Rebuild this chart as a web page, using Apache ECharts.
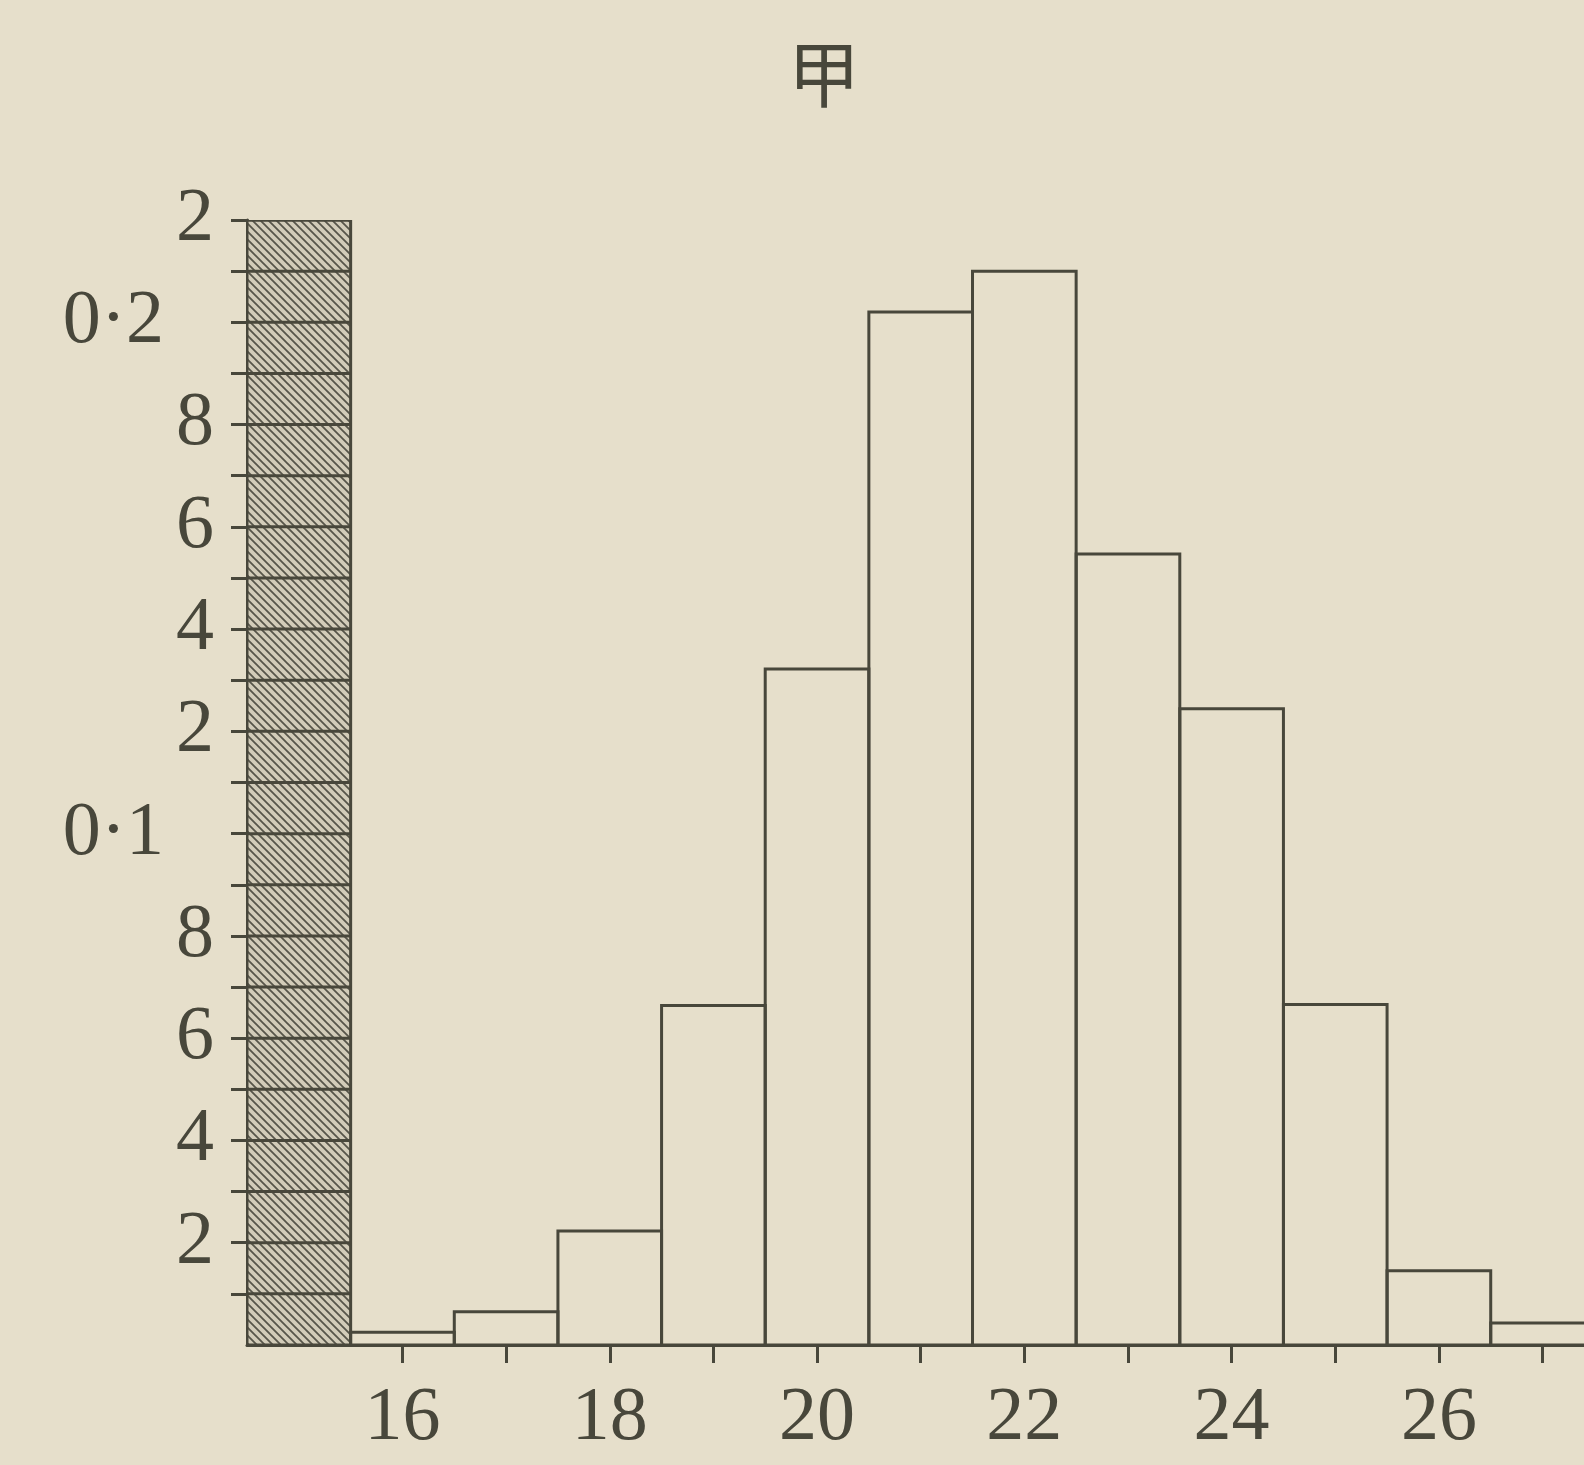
<!DOCTYPE html>
<html>
<head>
<meta charset="utf-8">
<script src="https://cdn.jsdelivr.net/npm/echarts@6/dist/echarts.min.js"></script>
<style>
html,body{margin:0;padding:0;background:#e6dfcb;}
#chart{width:1584px;height:1465px;}
</style>
</head>
<body>
<div id="chart"></div>
<script>
// ---- data ----
const titleText = '甲';
const binCenters = [16, 17, 18, 19, 20, 21, 22, 23, 24, 25, 26, 27];
const freqValues = [0.0025, 0.0065, 0.0223, 0.0664, 0.1322, 0.202, 0.210, 0.1547, 0.1244, 0.0666, 0.0145, 0.0043];
const scaleColumn = [[15, 0.22]];
const xTickValues = [16, 17, 18, 19, 20, 21, 22, 23, 24, 25, 26, 27];
const xLabelValues = [16, 18, 20, 22, 24, 26];
const yTickValues = [0.01, 0.02, 0.03, 0.04, 0.05, 0.06, 0.07, 0.08, 0.09, 0.10, 0.11,
                     0.12, 0.13, 0.14, 0.15, 0.16, 0.17, 0.18, 0.19, 0.20, 0.21, 0.22];
const yLabelValues = [0.02, 0.04, 0.06, 0.08, 0.10, 0.12, 0.14, 0.16, 0.18, 0.20, 0.22];
const yLabelTexts = ['2', '4', '6', '8', '0·1', '2', '4', '6', '8', '0·2', '2'];

const ink = '#48473b';
const paper = '#e6dfcb';

// hatch pattern
const pc = document.createElement('canvas');
pc.width = 8; pc.height = 8;
const pctx = pc.getContext('2d');
pctx.fillStyle = '#d2ccb9';
pctx.fillRect(0, 0, 8, 8);
pctx.strokeStyle = '#57554a';
pctx.lineWidth = 1.8;
pctx.beginPath();
pctx.moveTo(-1, -1); pctx.lineTo(9, 9);
pctx.moveTo(7, -1); pctx.lineTo(9, 1);
pctx.moveTo(-1, 7); pctx.lineTo(1, 9);
pctx.stroke();

const chart = echarts.init(document.getElementById('chart'));

const option = {
  backgroundColor: paper,
  animation: false,
  title: {
    text: titleText,
    left: 819,
    top: 33,
    textAlign: 'center',
    textStyle: {fontFamily: 'Noto Sans CJK SC', fontSize: 72, fontWeight: 'normal', color: ink}
  },
  grid: {left: 247, right: 0, top: 220, bottom: 120},
  xAxis: {
    type: 'value',
    min: 14.5,
    max: 27.4,
    axisLine: {show: true, lineStyle: {color: ink, width: 3}},
    axisTick: {show: true, customValues: xTickValues, length: 18, lineStyle: {color: ink, width: 3}},
    axisLabel: {
      customValues: xLabelValues,
      margin: 36,
      fontFamily: 'Liberation Serif',
      fontSize: 76,
      color: ink
    },
    splitLine: {show: false}
  },
  yAxis: {
    type: 'value',
    min: 0,
    max: 0.22,
    axisLine: {show: true, lineStyle: {color: ink, width: 3}},
    axisTick: {show: true, customValues: yTickValues, length: 16, lineStyle: {color: ink, width: 3}},
    axisLabel: {
      customValues: yLabelValues,
      margin: 33,
      fontFamily: 'Liberation Serif',
      fontSize: 76,
      color: ink,
      formatter: function (v) {
        let idx = 0, best = 1;
        yLabelValues.forEach(function (u, i) { if (Math.abs(u - v) < best) { best = Math.abs(u - v); idx = i; } });
        const t = yLabelTexts[idx];
        return t.indexOf('·') >= 0 ? '{d|' + t + '}' : t;
      },
      rich: {
        d: {fontFamily: 'Liberation Serif', fontSize: 76, color: ink, padding: [0, 50, 0, 0]}
      }
    },
    splitLine: {show: false}
  },
  series: [
    {
      type: 'custom',
      name: 'scale',
      clip: true,
      data: scaleColumn,
      renderItem: function (params, api) {
        const x = api.value(0), y = api.value(1);
        const p0 = api.coord([x - 0.5, y]);
        const p1 = api.coord([x + 0.5, 0]);
        const children = [{
          type: 'rect',
          shape: {x: p0[0], y: p0[1], width: p1[0] - p0[0], height: p1[1] - p0[1]},
          style: {fill: {image: pc, repeat: 'repeat'}, stroke: ink, lineWidth: 3}
        }];
        yTickValues.forEach(function (t) {
          const a = api.coord([x - 0.5, t]);
          const b = api.coord([x + 0.5, t]);
          children.push({type: 'line', shape: {x1: a[0], y1: a[1], x2: b[0], y2: b[1]}, style: {stroke: ink, lineWidth: 3}});
        });
        return {type: 'group', children: children};
      }
    },
    {
      type: 'custom',
      name: 'freq',
      clip: true,
      data: binCenters.map(function (c, i) { return [c, freqValues[i]]; }),
      renderItem: function (params, api) {
        const x = api.value(0), y = api.value(1);
        const p0 = api.coord([x - 0.5, y]);
        const p1 = api.coord([x + 0.5, 0]);
        return {
          type: 'rect',
          shape: {x: p0[0], y: p0[1], width: p1[0] - p0[0], height: p1[1] - p0[1]},
          style: {fill: 'rgba(0,0,0,0)', stroke: ink, lineWidth: 3}
        };
      }
    }
  ]
};
chart.setOption(option);
</script>
</body>
</html>
